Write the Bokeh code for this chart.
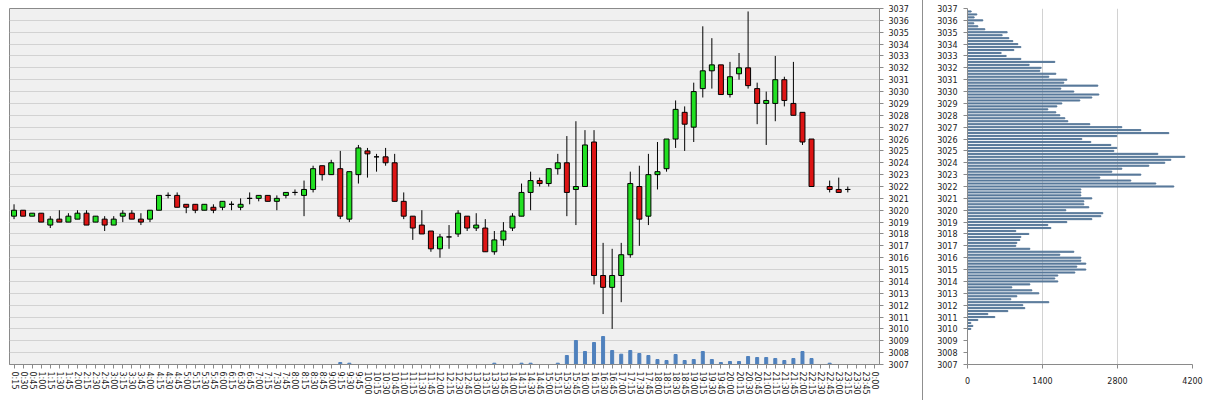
from bokeh.plotting import figure
from bokeh.models import (ColumnDataSource, FactorRange, Range1d, LinearAxis,
                          FixedTicker, Div)
from bokeh.layouts import row
from bokeh.embed import file_html
from bokeh.resources import INLINE

times = ["0:15","0:30","0:45","1:00","1:15","1:30","1:45","2:00","2:15","2:30","2:45","3:00",
         "3:15","3:30","3:45","4:00","4:15","4:30","4:45","5:00","5:15","5:30","5:45","6:00",
         "6:15","6:30","6:45","7:00","7:15","7:30","7:45","8:00","8:15","8:30","8:45","9:00",
         "9:15","9:30","9:45","10:00","10:15","10:30","10:45","11:00","11:15","11:30","11:45","12:00",
         "12:15","12:30","12:45","13:00","13:15","13:30","13:45","14:00","14:15","14:30","14:45","15:00",
         "15:15","15:30","15:45","16:00","16:15","16:30","16:45","17:00","17:15","17:30","17:45","18:00",
         "18:15","18:30","18:45","19:00","19:15","19:30","19:45","20:00","20:15","20:30","20:45","21:00",
         "21:15","21:30","21:45","22:00","22:15","22:30","22:45","23:00","23:15","23:30","23:45","0:00"]

opens = [3019.5,3020.0,3019.5,3019.75,3018.75,3019.25,3019.0,3019.25,3019.75,3019.0,3019.25,3018.75,
         3019.5,3019.75,3019.25,3019.25,3020.0,3021.25,3021.25,3020.5,3020.5,3020.0,3020.25,3020.25,
         3020.5,3020.25,3021.0,3021.0,3021.25,3020.75,3021.25,3021.5,3021.25,3021.75,3023.75,3023.0,
         3023.5,3019.25,3023.0,3025.0,3024.5,3024.5,3024.0,3020.75,3019.5,3018.75,3018.25,3016.75,
         3017.75,3018.0,3019.5,3018.5,3018.5,3016.5,3017.5,3018.5,3019.5,3021.5,3022.5,3022.25,
         3023.5,3024.0,3021.75,3022.0,3025.75,3014.5,3013.5,3014.5,3016.25,3022.0,3019.5,3023.0,
         3023.5,3026.0,3028.25,3027.0,3030.25,3031.75,3032.25,3029.75,3031.5,3032.0,3030.25,3029.0,
         3029.0,3031.0,3029.0,3028.25,3026.0,None,3022.0,3021.75,3021.75,None,None,None]
highs = [3020.5,3020.0,3019.75,3019.75,3019.5,3020.0,3019.75,3020.0,3020.0,3019.5,3019.5,3019.5,
         3020.0,3020.0,3019.75,3020.0,3021.25,3021.5,3021.5,3020.5,3020.5,3020.5,3020.5,3020.75,
         3020.75,3021.0,3021.5,3021.25,3021.25,3021.25,3021.5,3021.75,3022.5,3023.75,3023.75,3024.25,
         3025.0,3023.25,3025.5,3025.25,3024.75,3025.25,3024.75,3021.5,3019.5,3020.0,3018.25,3018.0,
         3018.75,3020.0,3019.5,3019.75,3019.25,3018.25,3019.0,3019.75,3022.25,3023.25,3022.75,3023.5,
         3024.75,3026.25,3027.5,3026.75,3026.75,3017.25,3016.75,3017.25,3023.25,3023.75,3024.75,3025.75,
         3026.0,3029.25,3028.75,3030.75,3035.5,3034.5,3032.25,3032.5,3033.25,3036.75,3030.75,3030.0,
         3033.0,3031.25,3032.5,3028.25,3026.0,None,3022.5,3022.75,3022.0,None,None,None]
lows = [3019.25,3019.5,3019.5,3019.0,3018.5,3019.0,3019.0,3019.25,3018.75,3019.0,3018.25,3018.75,
        3019.0,3019.25,3018.75,3019.0,3020.0,3021.0,3020.25,3019.75,3019.75,3020.0,3019.75,3020.0,
        3020.0,3020.0,3020.5,3020.75,3020.75,3020.0,3021.0,3021.25,3019.5,3021.5,3022.5,3023.0,
        3019.25,3019.0,3022.25,3022.75,3023.25,3023.75,3020.75,3019.25,3017.5,3018.0,3016.5,3016.0,
        3016.75,3017.75,3018.25,3018.25,3016.5,3016.25,3017.0,3018.25,3019.5,3020.0,3022.0,3022.0,
        3023.0,3019.5,3018.75,3022.0,3013.75,3011.25,3010.0,3012.25,3016.0,3017.0,3018.75,3021.75,
        3023.25,3025.25,3025.0,3025.75,3029.5,3030.25,3029.75,3029.5,3031.0,3030.25,3027.25,3025.5,
        3027.5,3028.75,3028.0,3025.5,3022.0,None,3021.5,3021.5,3021.5,None,None,None]
closes = [3020.0,3019.5,3019.75,3019.0,3019.25,3019.0,3019.5,3019.75,3018.75,3019.5,3018.75,3019.25,
          3019.75,3019.25,3019.0,3020.0,3021.25,3021.25,3020.25,3020.25,3020.0,3020.5,3020.0,3020.75,
          3020.5,3020.5,3021.0,3021.25,3020.75,3021.0,3021.5,3021.5,3021.75,3023.5,3023.0,3024.0,
          3019.5,3023.25,3025.25,3024.75,3024.5,3024.0,3020.75,3019.5,3018.5,3018.0,3016.75,3017.75,
          3017.75,3019.75,3018.5,3018.75,3016.5,3017.5,3018.25,3019.5,3021.5,3022.5,3022.25,3023.5,
          3024.0,3021.5,3022.0,3025.5,3014.5,3013.5,3014.5,3016.25,3022.25,3019.25,3023.0,3023.25,
          3026.0,3028.5,3027.25,3030.0,3031.75,3032.25,3029.75,3031.25,3032.0,3030.5,3029.0,3029.25,
          3031.0,3029.25,3028.0,3025.75,3022.0,None,3021.75,3021.5,3021.75,None,None,None]
volumes = [0,0,0,0,0,0,0,0,0,0,0,0,
           0,0,0,0,0,0,0,0,0,0,0,0,
           0,0,0,0,0,0,0,0,0,0,0,0,
           200,130,0,0,0,0,0,0,0,0,0,0,
           0,0,0,0,0,130,0,0,130,130,0,0,
           130,900,2400,1300,2200,2800,1400,1030,1400,1100,900,500,
           400,1000,400,500,1300,500,200,300,300,800,700,700,
           600,400,600,1300,600,0,130,0,0,0,0,0]

prof_prices = [3036.75,3036.5,3036.25,3036.0,3035.75,3035.5,3035.25,3035.0,3034.75,3034.5,3034.25,3034.0,
               3033.75,3033.5,3033.25,3033.0,3032.75,3032.5,3032.25,3032.0,3031.75,3031.5,3031.25,3031.0,
               3030.75,3030.5,3030.25,3030.0,3029.75,3029.5,3029.25,3029.0,3028.75,3028.5,3028.25,3028.0,
               3027.75,3027.5,3027.25,3027.0,3026.75,3026.5,3026.25,3026.0,3025.75,3025.5,3025.25,3025.0,
               3024.75,3024.5,3024.25,3024.0,3023.75,3023.5,3023.25,3023.0,3022.75,3022.5,3022.25,3022.0,
               3021.75,3021.5,3021.25,3021.0,3020.75,3020.5,3020.25,3020.0,3019.75,3019.5,3019.25,3019.0,
               3018.75,3018.5,3018.25,3018.0,3017.75,3017.5,3017.25,3017.0,3016.75,3016.5,3016.25,3016.0,
               3015.75,3015.5,3015.25,3015.0,3014.75,3014.5,3014.25,3014.0,3013.75,3013.5,3013.25,3013.0,
               3012.75,3012.5,3012.25,3012.0,3011.75,3011.5,3011.25,3011.0,3010.75,3010.5,3010.25,3010.0]
prof_volumes = [68,174,124,286,118,193,324,740,647,772,846,940,
                996,865,628,722,996,1630,1151,1375,1350,1649,1518,1854,
                1798,2433,1742,1985,2452,2321,2097,1761,1668,1500,1649,1724,
                1817,1873,2284,2881,3236,3758,2788,2134,2302,2676,2788,2732,
                3553,4057,3796,3683,3385,2881,2694,3236,2470,3049,3515,3851,
                2116,2116,2116,2321,2172,2172,2265,1836,2526,2489,2321,1854,
                1500,1556,902,1145,996,977,921,902,1164,1985,1724,2116,
                2116,2209,2041,2209,2004,1686,1630,1686,1164,828,1201,1332,
                921,809,1518,1033,1070,753,380,510,193,62,100,62]
price_ticks = list(range(3007, 3038))
profile_ticks = [0, 1400, 2800, 4200]

FONT = "DejaVu Sans"
TXT = "#222222"
GREEN = "#22e022"
RED = "#dd1414"

# ---- candle data
cx, ctop, cbot, chigh, clow, ccol = [], [], [], [], [], []
for t, o, h, l, c in zip(times, opens, highs, lows, closes):
    if o is None:
        continue
    cx.append(t)
    ctop.append(max(o, c))
    cbot.append(min(o, c))
    chigh.append(h)
    clow.append(l)
    ccol.append(GREEN if c >= o else RED)
csrc = ColumnDataSource(dict(x=cx, top=ctop, bottom=cbot, high=chigh, low=clow, color=ccol))
vsrc = ColumnDataSource(dict(x=times, v=volumes))

p = figure(x_range=FactorRange(*times), y_range=Range1d(3007, 3037),
           frame_width=870, frame_height=356, output_backend="svg", toolbar_location=None,
           min_border_left=9, min_border_top=8, min_border_right=43, min_border_bottom=30,
           background_fill_color="#f0f0f0", border_fill_color="white", y_axis_location="right")
p.outline_line_color = "#8a8a8a"
p.xgrid.grid_line_color = None
p.ygrid.grid_line_color = "#d2d2d2"
p.ygrid.grid_line_width = 1
p.yaxis.ticker = FixedTicker(ticks=price_ticks)
p.extra_y_ranges = {"vol": Range1d(0, 35600)}

p.vbar(x="x", top="v", bottom=0, width=0.33, color="#4f81bd", source=vsrc, y_range_name="vol")
p.segment(x0="x", y0="high", x1="x", y1="low", line_color="black", line_width=1, source=csrc)
p.vbar(x="x", top="top", bottom="bottom", width=0.55, fill_color="color",
       line_color="black", line_width=1, source=csrc)

for ax in (p.xaxis[0], p.yaxis[0]):
    ax.major_label_text_font = FONT
    ax.major_label_text_font_size = "8px"
    ax.major_label_text_color = TXT
    ax.axis_line_color = "#8a8a8a"
    ax.major_tick_line_color = "#8a8a8a"
    ax.minor_tick_line_color = None
    ax.major_tick_in = 0
    ax.major_tick_out = 4
p.xaxis.major_label_orientation = "vertical"
p.xaxis.major_label_standoff = 3
p.yaxis.major_label_standoff = 5

sep = Div(text="", width=1, height=400, margin=(0, 0, 0, 0),
          styles={"background-color": "#8f8f8f"})

q = figure(x_range=Range1d(0, 4200), y_range=Range1d(3007, 3037),
           frame_width=225, frame_height=356, output_backend="svg", toolbar_location=None,
           min_border_left=44, min_border_top=8, min_border_right=14, min_border_bottom=30,
           background_fill_color="white", border_fill_color="white")
q.outline_line_color = None
q.ygrid.grid_line_color = None
q.xgrid.grid_line_color = "#d2d2d2"
q.xgrid.grid_line_width = 1
q.xaxis.ticker = FixedTicker(ticks=profile_ticks)
q.yaxis.ticker = FixedTicker(ticks=price_ticks)
q.hbar(y=prof_prices, right=prof_volumes, left=0, height=0.09, color="#58799a")
for ax in (q.xaxis[0], q.yaxis[0]):
    ax.major_label_text_font = FONT
    ax.major_label_text_font_size = "8px"
    ax.major_label_text_color = TXT
    ax.axis_line_color = "#8a8a8a"
    ax.major_tick_line_color = "#8a8a8a"
    ax.minor_tick_line_color = None
    ax.major_tick_in = 0
    ax.major_tick_out = 4
q.xaxis.major_label_standoff = 8
q.yaxis.major_label_standoff = 6

layout = row(p, sep, q)
open("out.html", "w").write(file_html(layout, INLINE))
